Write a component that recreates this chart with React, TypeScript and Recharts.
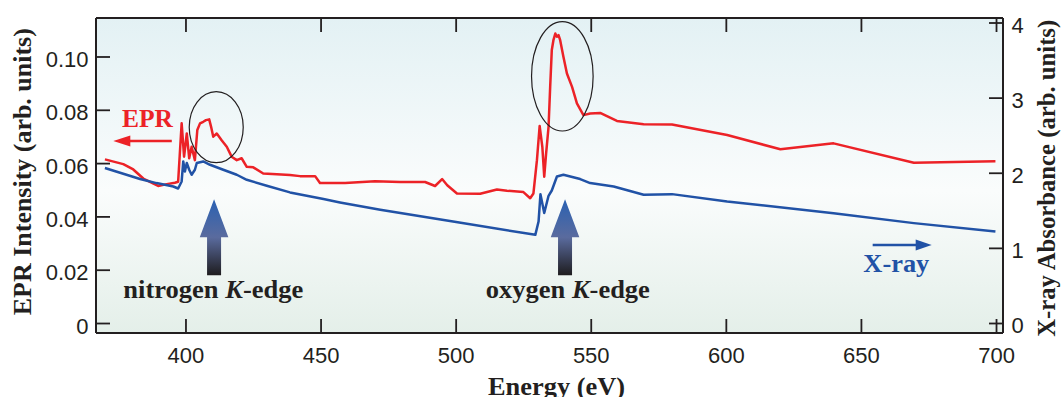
import React from 'react';
import { LineChart, Line, XAxis, YAxis, CartesianGrid, ReferenceDot } from 'recharts';

// ---------- data ----------
const eprEnergy = [
  370.0, 376.8, 380.5, 384.2, 389.7, 392.9, 395.9, 397.1, 398.4, 399.3, 400.3, 401.2, 402.1, 403.3,
  404.2, 405.2, 406.4, 407.4, 408.6, 409.3, 410.1, 411.4, 413.2, 415.1, 416.9, 418.8, 420.6, 422.5,
  424.9, 428.6, 433.6, 438.5, 442.2, 447.8, 449.6, 458.9, 470.0, 479.3, 488.5, 492.2, 494.8, 496.7,
  500.3, 508.9, 515.1, 518.8, 524.9, 527.4, 528.6, 529.9, 530.9, 531.9, 532.6, 533.3, 534.2, 534.8,
  535.4, 536.0, 536.7, 537.3, 537.9, 538.5, 539.7, 541.0, 542.9, 544.7, 547.1, 549.6, 553.3, 559.5,
  569.4, 579.9, 600.3, 620.0, 639.7, 669.4, 699.6,
];
const eprIntensity = [
  0.0616, 0.0598, 0.0578, 0.0544, 0.0516, 0.0523, 0.0528, 0.0532, 0.0751, 0.0626, 0.0713, 0.0620, 0.0663, 0.0613,
  0.0726, 0.0751, 0.0757, 0.0763, 0.0766, 0.0738, 0.0701, 0.0713, 0.0688, 0.0663, 0.0626, 0.0613, 0.0620, 0.0588,
  0.0586, 0.0563, 0.0560, 0.0557, 0.0553, 0.0553, 0.0527, 0.0527, 0.0534, 0.0531, 0.0531, 0.0516, 0.0542, 0.0519,
  0.0488, 0.0487, 0.0503, 0.0498, 0.0493, 0.0470, 0.0488, 0.0613, 0.0741, 0.0663, 0.0551, 0.0638, 0.0738, 0.0888,
  0.1026, 0.1063, 0.1088, 0.1076, 0.1082, 0.1063, 0.1001, 0.0938, 0.0888, 0.0826, 0.0782, 0.0788, 0.0790, 0.0760,
  0.0748, 0.0747, 0.0707, 0.0654, 0.0676, 0.0603, 0.0609,
];
const xrayEnergy = [
  370.0, 376.8, 383.0, 389.1, 395.3, 397.1, 398.4, 399.0, 399.6, 400.3, 401.2, 402.1, 403.3, 404.0,
  406.4, 408.9, 413.8, 418.8, 422.5, 429.9, 438.5, 450.9, 457.0, 471.9, 500.0, 529.3, 530.5, 531.2,
  532.6, 534.2, 535.4, 537.3, 539.7, 545.9, 549.6, 558.3, 569.4, 579.9, 600.3, 639.7, 669.4, 699.6,
];
const xrayAbsorbance = [
  2.069, 1.993, 1.923, 1.869, 1.824, 1.797, 1.891, 2.157, 2.024, 2.136, 2.047, 1.980, 2.047, 2.136,
  2.157, 2.113, 2.047, 1.980, 1.913, 1.833, 1.745, 1.656, 1.611, 1.513, 1.350, 1.180, 1.357, 1.720,
  1.470, 1.700, 1.770, 1.957, 1.980, 1.923, 1.869, 1.824, 1.713, 1.722, 1.624, 1.469, 1.336, 1.224,
];
const energyTicks = [400, 450, 500, 550, 600, 650, 700];
const eprTicks = [0, 0.02, 0.04, 0.06, 0.08, 0.1];
const eprTickLabels = ['0', '0.02', '0.04', '0.06', '0.08', '0.10'];
const xrayTicks = [0, 1, 2, 3, 4];

const eprData = eprEnergy.map((e, i) => ({ energy: e, epr: eprIntensity[i] }));
const xrayData = xrayEnergy.map((e, i) => ({ energy: e, xray: xrayAbsorbance[i] }));

// ---------- layout / style ----------
const W = 1061;
const H = 397;
const PLOT = { left: 96, right: 1003, top: 18, bottom: 333 };
const AX = '#231f20';
const RED = '#ec2227';
const BLUE = '#2152a6';
const SANS = '"Liberation Sans", Arial, Helvetica, sans-serif';
const SERIF = '"Liberation Serif", "Times New Roman", Times, serif';
const TICK_LEN = 14;
const TICK_W = 1.8;

const LeftTick = (p: any) => {
  const { y, payload } = p;
  const idx = eprTicks.indexOf(payload.value);
  return (
    <g>
      <line x1={PLOT.left} x2={PLOT.left + TICK_LEN} y1={y} y2={y} stroke={AX} strokeWidth={TICK_W} />
      <text x={PLOT.left - 7.5} y={y + 10} textAnchor="end" fontFamily={SANS} fontSize={22} fill={AX}>
        {idx >= 0 ? eprTickLabels[idx] : payload.value}
      </text>
    </g>
  );
};

const RightTick = (p: any) => {
  const { y, payload } = p;
  return (
    <g>
      <line x1={PLOT.right - TICK_LEN} x2={PLOT.right} y1={y} y2={y} stroke={AX} strokeWidth={TICK_W} />
      <text x={PLOT.right + 8.5} y={y + 9.5} textAnchor="start" fontFamily={SANS} fontSize={22} fill={AX}>
        {payload.value}
      </text>
    </g>
  );
};

const BottomTick = (p: any) => {
  const { x, payload } = p;
  return (
    <g>
      <line x1={x} x2={x} y1={PLOT.bottom} y2={PLOT.bottom - TICK_LEN} stroke={AX} strokeWidth={TICK_W} />
      <text x={x} y={363} textAnchor="middle" fontFamily={SANS} fontSize={22} fill={AX}>
        {payload.value}
      </text>
    </g>
  );
};

const TopTick = (p: any) => {
  const { x } = p;
  return <line x1={x} x2={x} y1={PLOT.top} y2={PLOT.top + TICK_LEN} stroke={AX} strokeWidth={TICK_W} />;
};

const titleStyle = { fontFamily: SERIF, fontWeight: 700, fontSize: 25, fill: AX } as const;

const LeftTitle = () => (
  <text transform="translate(30.5,171.7) rotate(-90)" textAnchor="middle" {...titleStyle}
    textLength={287} lengthAdjust="spacingAndGlyphs">
    EPR Intensity (arb. units)
  </text>
);
const RightTitle = () => (
  <text transform="translate(1055,178.3) rotate(-90)" textAnchor="middle" {...titleStyle}
    textLength={317} lengthAdjust="spacingAndGlyphs">
    X-ray Absorbance (arb. units)
  </text>
);
const BottomTitle = () => (
  <text x={556.5} y={395} textAnchor="middle" {...titleStyle} textLength={137} lengthAdjust="spacingAndGlyphs">
    Energy (eV)
  </text>
);

// ---------- annotation shapes (anchored at data coords) ----------
const UpArrow = (p: any) => {
  const { cx, cy } = p;
  const pts = [
    [cx, cy], [cx + 14.3, cy + 38], [cx + 7, cy + 38], [cx + 7, cy + 76],
    [cx - 7, cy + 76], [cx - 7, cy + 38], [cx - 14.3, cy + 38],
  ].map((q) => q.join(',')).join(' ');
  return <polygon points={pts} fill="url(#arrowGrad)" />;
};

const LeftRedArrow = (p: any) => {
  const { cx, cy } = p;
  return (
    <g>
      <line x1={cx + 15} x2={cx + 58.5} y1={cy} y2={cy} stroke={RED} strokeWidth={2.6} />
      <polygon points={`${cx},${cy} ${cx + 17},${cy - 5.5} ${cx + 17},${cy + 5.5}`} fill={RED} />
    </g>
  );
};

const RightBlueArrow = (p: any) => {
  const { cx, cy } = p;
  return (
    <g>
      <line x1={cx - 59} x2={cx - 14} y1={cy} y2={cy} stroke={BLUE} strokeWidth={2.6} />
      <polygon points={`${cx},${cy} ${cx - 16},${cy - 5.5} ${cx - 16},${cy + 5.5}`} fill={BLUE} />
    </g>
  );
};

const makeEllipse = (rx: number, ry: number) => (p: any) => (
  <ellipse cx={p.cx} cy={p.cy} rx={rx} ry={ry} fill="none" stroke={AX} strokeWidth={1.2} />
);

const makeText = (content: React.ReactNode, color: string, len: number) => (p: any) => (
  <text x={p.cx} y={p.cy} fontFamily={SERIF} fontWeight={700} fontSize={25} fill={color}
    textLength={len} lengthAdjust="spacingAndGlyphs">
    {content}
  </text>
);

export default function App() {
  return (
    <div style={{ position: 'absolute', left: 0, top: 0, width: W, height: H, background: '#fff' }}>
      <svg width={0} height={0} style={{ position: 'absolute' }}>
        <defs>
          <linearGradient id="bgGrad" x1="0" y1="0" x2="0" y2="1">
            <stop offset="0%" stopColor="#e3f1f4" />
            <stop offset="55%" stopColor="#fafcfc" />
            <stop offset="100%" stopColor="#e4efe9" />
          </linearGradient>
          <linearGradient id="arrowGrad" x1="0" y1="0" x2="0" y2="1">
            <stop offset="0%" stopColor="#2a61b2" />
            <stop offset="50%" stopColor="#5a6b9e" />
            <stop offset="100%" stopColor="#1e1c1e" />
          </linearGradient>
        </defs>
      </svg>
      <LineChart width={W} height={H} margin={{ top: 0, right: 0, bottom: 0, left: 0 }}>
        <CartesianGrid xAxisId="bottom" yAxisId="left" horizontal={false} vertical={false}
          fill="url(#bgGrad)" fillOpacity={1} />
        <XAxis xAxisId="bottom" type="number" dataKey="energy" domain={[366.7, 702.4]} allowDataOverflow
          ticks={energyTicks} height={64} tickSize={0} tickMargin={14} interval={0}
          axisLine={{ stroke: AX, strokeWidth: 2 }} tickLine={false} tick={<BottomTick />}
          label={{ content: () => <BottomTitle /> }} />
        <XAxis xAxisId="top" orientation="top" type="number" dataKey="energy" domain={[366.7, 702.4]}
          allowDataOverflow ticks={energyTicks} height={18} tickSize={0} tickMargin={0} interval={0}
          axisLine={{ stroke: AX, strokeWidth: 2 }} tickLine={false} tick={<TopTick />} />
        <YAxis yAxisId="left" type="number" domain={[-0.00356, 0.11463]} allowDataOverflow ticks={eprTicks}
          width={96} tickSize={0} tickMargin={7} interval={0}
          axisLine={{ stroke: AX, strokeWidth: 2 }} tickLine={false} tick={<LeftTick />}
          label={{ content: () => <LeftTitle /> }} />
        <YAxis yAxisId="right" orientation="right" type="number" domain={[-0.1265, 4.0666]} allowDataOverflow
          ticks={xrayTicks} width={58} tickSize={0} tickMargin={8} interval={0}
          axisLine={{ stroke: AX, strokeWidth: 2 }} tickLine={false} tick={<RightTick />}
          label={{ content: () => <RightTitle /> }} />

        <Line xAxisId="bottom" yAxisId="left" data={eprData} dataKey="epr" type="linear" stroke={RED}
          strokeWidth={2.5} dot={false} activeDot={false} isAnimationActive={false} strokeLinejoin="round" />
        <Line xAxisId="bottom" yAxisId="right" data={xrayData} dataKey="xray" type="linear" stroke={BLUE}
          strokeWidth={2.5} dot={false} activeDot={false} isAnimationActive={false} strokeLinejoin="round" />

        <ReferenceDot xAxisId="bottom" yAxisId="left" x={411.2} y={0.07366} ifOverflow="visible"
          shape={makeEllipse(27, 35.5)} />
        <ReferenceDot xAxisId="bottom" yAxisId="left" x={539.3} y={0.09276} ifOverflow="visible"
          shape={makeEllipse(30.8, 54.7)} />
        <ReferenceDot xAxisId="bottom" yAxisId="left" x={410.4} y={0.0466} ifOverflow="visible"
          shape={UpArrow} />
        <ReferenceDot xAxisId="bottom" yAxisId="left" x={540.3} y={0.0466} ifOverflow="visible"
          shape={UpArrow} />
        <ReferenceDot xAxisId="bottom" yAxisId="left" x={373.1} y={0.06848} ifOverflow="visible"
          shape={LeftRedArrow} />
        <ReferenceDot xAxisId="bottom" yAxisId="left" x={676.0} y={0.02946} ifOverflow="visible"
          shape={RightBlueArrow} />
        <ReferenceDot xAxisId="bottom" yAxisId="left" x={376.3} y={0.0739} ifOverflow="visible"
          shape={makeText('EPR', RED, 51)} />
        <ReferenceDot xAxisId="bottom" yAxisId="left" x={650.7} y={0.0193} ifOverflow="visible"
          shape={makeText('X-ray', BLUE, 66)} />
        <ReferenceDot xAxisId="bottom" yAxisId="left" x={376.8} y={0.00946} ifOverflow="visible"
          shape={makeText(<>nitrogen <tspan fontStyle="italic">K</tspan>-edge</>, AX, 180)} />
        <ReferenceDot xAxisId="bottom" yAxisId="left" x={511.0} y={0.00946} ifOverflow="visible"
          shape={makeText(<>oxygen <tspan fontStyle="italic">K</tspan>-edge</>, AX, 164)} />
      </LineChart>
    </div>
  );
}
